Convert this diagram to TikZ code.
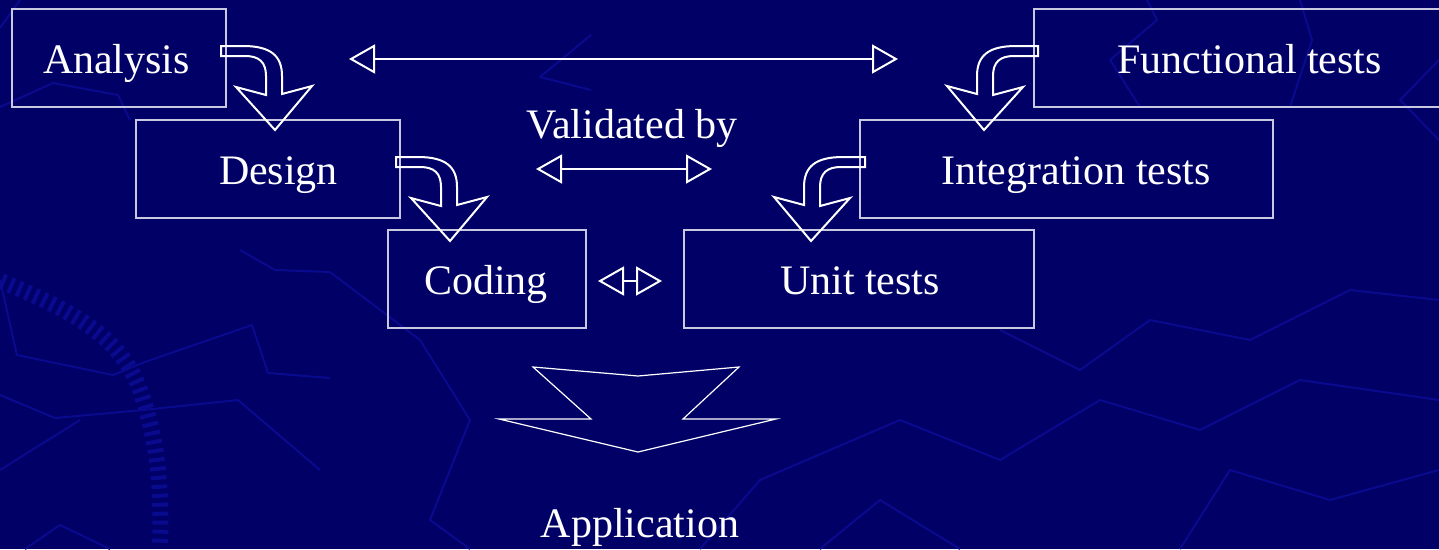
\documentclass[tikz,border=0pt]{standalone}
\usepackage{fontspec}
\setmainfont{Liberation Serif}
\usetikzlibrary{arrows.meta,decorations.pathreplacing}

\definecolor{slidebg}{RGB}{0,0,102}
\definecolor{mapline}{RGB}{10,10,142}
\definecolor{boxline}{RGB}{200,200,225}

\tikzset{
  x=1pt, y=-1pt,
  stagebox/.style={draw=boxline, line width=1.2pt, rectangle, inner sep=0pt},
  lbl/.style={text=white, font=\fontsize{42}{50}\selectfont, anchor=base, inner sep=0pt},
  uarrow/.style={draw=white, line width=2pt, line join=miter},
  dblarrow/.style={white, line width=1.2pt,
    {Triangle[open, length=26pt, width=29pt, line width=2pt]}-{Triangle[open, length=26pt, width=29pt, line width=2pt]}},
  bigarrow/.style={draw=white, line width=1.2pt, line join=miter},
  mapstroke/.style={draw=mapline, line width=2pt, line join=round},
  uturn/.pic={
    \draw[uarrow] (0,0) -- (22,0) .. controls (50,0) and (61,10) .. (61,30)
      -- (61,48) -- (91,40) -- (54,84) -- (15,41) -- (45,49) -- (45,30)
      .. controls (45,16) and (38,10) .. (24,10) -- (0,10) -- cycle;
  }
}

\begin{document}
\begin{tikzpicture}
  \useasboundingbox (0,0) rectangle (1439,549);
  \fill[slidebg] (0,0) rectangle (1439,549);

  % faint map texture of the slide background
  \begin{scope}
    \clip (0,0) rectangle (1439,549);
    \draw[mapstroke] (240,250) -- (275,270) -- (330,272);
    \draw[mapstroke] (0,280) -- (17,355) -- (113,375) -- (145,362) -- (252,325) -- (268,373) -- (330,378);
    \draw[mapstroke] (0,395) -- (55,418) -- (143,410) -- (238,400) -- (320,470);
    \draw[mapstroke] (0,470) -- (80,420);
    \draw[mapstroke] (25,549) -- (60,525) -- (110,549);
    \draw[mapstroke] (591,35) -- (540,77) -- (591,90);
    \draw[mapstroke] (0,107) -- (53,83) -- (118,95) -- (130,120);
    \draw[mapstroke] (0,28) -- (20,0);
    \draw[mapstroke] (1147,0) -- (1157,20) -- (1110,60) -- (1140,107);
    \draw[mapstroke] (1300,0) -- (1312,40) -- (1290,107);
    \draw[mapstroke] (1439,60) -- (1400,100) -- (1439,140);
    \draw[mapstroke] (700,549) -- (760,480) -- (900,420) -- (1000,460) -- (1100,400) -- (1200,430) -- (1300,380) -- (1439,400);
    \draw[mapstroke] (1180,549) -- (1230,470) -- (1330,500) -- (1439,470);
    \draw[mapstroke] (820,549) -- (880,500) -- (960,549);
    \draw[mapstroke] (1000,330) -- (1080,370) -- (1150,320) -- (1250,340) -- (1350,290) -- (1439,300);
    \draw[mapstroke] (330,272) -- (420,340) -- (470,420) -- (430,520) -- (470,549);
    \draw[mapstroke, line width=4pt, decorate,
          decoration={ticks, segment length=9pt, amplitude=8pt}]
      (3,282) .. controls (70,310) and (120,335) .. (140,390)
      .. controls (158,440) and (162,490) .. (160,549);
  \end{scope}

  % stages of the V model
  \node[stagebox, minimum width=214pt, minimum height=98pt] (analysis)   at (119,58)   {};
  \node[stagebox, minimum width=430pt, minimum height=98pt] (functional) at (1249,58)  {};
  \node[stagebox, minimum width=264pt, minimum height=98pt] (design)     at (268,169)  {};
  \node[stagebox, minimum width=413pt, minimum height=98pt] (integration) at (1066.5,169) {};
  \node[stagebox, minimum width=198pt, minimum height=98pt] (coding)     at (487,279)  {};
  \node[stagebox, minimum width=350pt, minimum height=98pt] (unit)       at (859,279)  {};

  \node[lbl] (analysisT)    at (116.5,73)  {Analysis};
  \node[lbl] (functionalT)  at (1249.5,73) {Functional tests};
  \node[lbl] (designT)      at (278.5,184) {Design};
  \node[lbl] (integrationT) at (1076,184)  {Integration tests};
  \node[lbl] (codingT)      at (486,294)   {Coding};
  \node[lbl] (unitT)        at (860,294)   {Unit tests};
  \node[lbl] (validated)    at (632,138)   {Validated by};
  \node[lbl] (application)  at (640,537)   {Application};

  % bent arrows going down each branch of the V
  \pic at (221,46) {uturn};
  \pic at (396,157) {uturn};
  \pic[xscale=-1] at (1038,46) {uturn};
  \pic[xscale=-1] at (865,157) {uturn};

  % validation links between the two branches
  \coordinate (topL) at (349,59);   \coordinate (topR) at (898,59);
  \coordinate (midL) at (536,169);  \coordinate (midR) at (712,169);
  \coordinate (lowL) at (598,281);  \coordinate (lowR) at (662,281);
  \draw[dblarrow] (topL) -- (topR);
  \draw[dblarrow] (midL) -- (midR);
  \draw[dblarrow] (lowL) -- (lowR);

  % wide arrow leading to the application
  \draw[bigarrow] (533,367) -- (638,376) -- (739,367) -- (683,419) -- (776,419)
    -- (638,452) -- (499,419) -- (591,419) -- cycle;
\end{tikzpicture}
\end{document}
